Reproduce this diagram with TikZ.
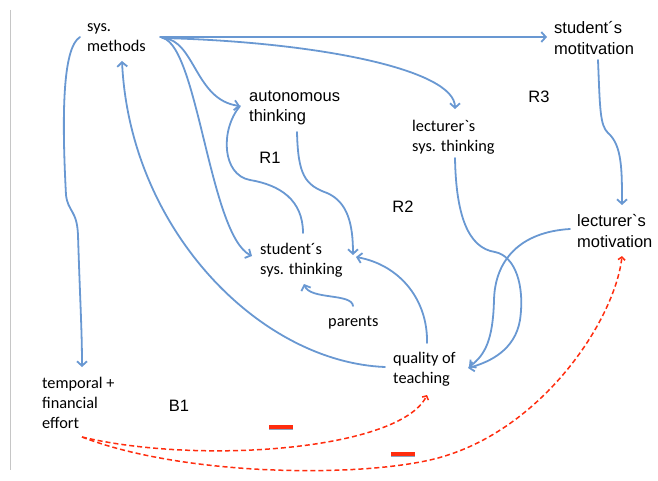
\documentclass[tikz,border=0pt]{standalone}
\usepackage{fontspec}
\usetikzlibrary{arrows.meta,calc}
\newfontfamily\calfont{Carlito}[Ligatures=TeXOff]
\newfontfamily\arialfont{Liberation Sans}[Ligatures=TeXOff]
\definecolor{cblue}{RGB}{105,152,210}
\definecolor{cred}{RGB}{255,45,15}
\tikzset{
  cal/.style={font=\fontsize{16.3}{20}\calfont, align=left, inner sep=0pt, anchor=west},
  ari/.style={font=\fontsize{16.5}{20.5}\arialfont, align=left, inner sep=0pt, anchor=west},
  lbl/.style={font=\fontsize{16.5}{20}\arialfont, inner sep=0pt},
  link/.style={draw=cblue, line width=1.8pt, line cap=round, -{Straight Barb[length=4.5pt,width=10pt,line width=1.8pt]}},
  plainlink/.style={draw=cblue, line width=1.8pt, line cap=round},
  neglink/.style={draw=cred, line width=1.5pt, dash pattern=on 5pt off 3pt, -{Straight Barb[length=3pt,width=7pt,line width=1.5pt]}},
  minusbar/.style={fill=cred},
  minusshadow/.style={fill=cblue!60!gray!80}
}
\begin{document}
\begin{tikzpicture}[x=1pt,y=-1pt]
\useasboundingbox (0,0) rectangle (658,481);
\draw[gray!45, line width=1pt] (10,10) -- (10,470);

% nodes
\node[cal] (sm) at (87,38) {sys.\\methods};
\node[ari] (at) at (249,108) {autonomous\\thinking};
\node[cal] (ls) at (412,137) {lecturer`s\\sys. thinking};
\node[ari] (smot) at (554,38) {student´s\\motitvation};
\node[ari] (lm) at (577,231) {lecturer`s\\motivation};
\node[cal] (ss) at (260,260) {student´s\\sys. thinking};
\node[cal] (par) at (328,323) {parents};
\node[cal] (qt) at (393,369) {quality of\\teaching};
\node[cal] (eff) at (42,403) {temporal +\\financial\\effort};
\node[lbl] (r1) at (270,158) {R1};
\node[lbl] (r2) at (403,207) {R2};
\node[lbl] (r3) at (539,97) {R3};
\node[lbl] (b1) at (179,406) {B1};

% blue links
\draw[link] ($(sm.west)+(73,-1)$) -- ($(smot.west)+(-7,-1)$);
\draw[link] ($(sm.west)+(75,0)$) .. controls (320,42) and (455,70) .. ($(ls.west)+(43,-28)$);
\draw[link] ($(sm.west)+(76,0)$) .. controls (195,40) and (195,100) .. ($(at.west)+(-9,-2)$);
\draw[link] ($(sm.west)+(76,0)$) .. controls (198,48) and (210,235) .. ($(ss.west)+(-8,-4)$);
\draw[plainlink] ($(ss.west)+(43,-27)$) .. controls (303,200) and (280,185) .. (250,180) .. controls (222,175) and (220,130) .. ($(at.west)+(-9,-2)$);
\draw[link] ($(at.west)+(48,24)$) .. controls (298,175) and (305,185) .. (327,193) .. controls (348,202) and (353,225) .. ($(ss.west)+(93,-5)$);
\draw[link] ($(qt.west)+(34,-26)$) .. controls (428,300) and (400,265) .. ($(ss.west)+(96,-3)$);
\draw[link] ($(par.west)+(25,-17)$) .. controls (352,293) and (310,300) .. ($(ss.west)+(44,24)$);
\draw[link] ($(qt.west)+(-8,-2)$) .. controls (260,362) and (130,230) .. ($(sm.west)+(35,23)$);
\draw[link] ($(sm.west)+(-7,-1)$) .. controls (62,48) and (62,120) .. (66,195) .. controls (68,212) and (77,210) .. (78,235) .. controls (80,300) and (82,330) .. ($(eff.west)+(40,-36)$);
\draw[link] ($(smot.west)+(44,22)$) .. controls (600,110) and (600,125) .. (608,133) .. controls (622,145) and (622,170) .. ($(lm.west)+(45,-26)$);
\draw[link] ($(ls.west)+(43,21)$) .. controls (456,215) and (468,248) .. (495,252) .. controls (515,256) and (525,285) .. (520,320) .. controls (515,350) and (490,362) .. ($(qt.west)+(75,-1)$);
\draw[link] ($(lm.west)+(-7,-2)$) .. controls (520,232) and (495,260) .. (494,300) .. controls (493,340) and (485,355) .. ($(qt.west)+(76,-2)$);

% red links
\draw[neglink] ($(eff.west)+(40,34)$) .. controls (200,465) and (400,450) .. ($(qt.west)+(34,26)$);
\draw[neglink] ($(eff.west)+(40,34)$) .. controls (180,475) and (350,478) .. (430,460) .. controls (540,435) and (615,320) .. ($(lm.west)+(45,25)$);

% minus signs
\path[minusshadow] (269,426) rectangle (293,430);
\path[minusbar] (269,424.5) rectangle (293,428.5);
\path[minusshadow] (391,453) rectangle (415,457);
\path[minusbar] (391,451.5) rectangle (415,455.5);
\end{tikzpicture}
\end{document}
